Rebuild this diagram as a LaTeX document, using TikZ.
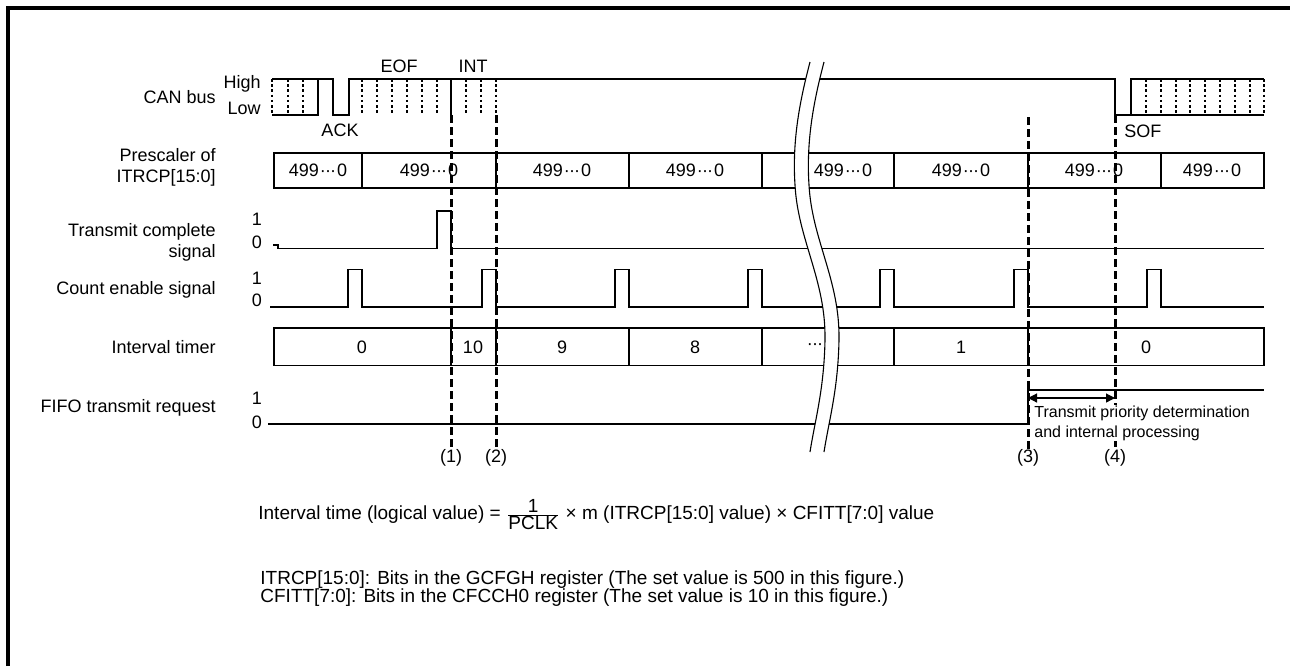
\documentclass[tikz,border=0pt]{standalone}
\usepackage{fontspec}
\setmainfont{Liberation Sans}
\usepackage{tikz}
\usetikzlibrary{arrows.meta, positioning, calc}
\newcommand{\tdots}{\kern0.06em\textperiodcentered\kern-0.05em\textperiodcentered\kern-0.05em\textperiodcentered\kern0.06em}
\tikzset{
  txt/.style={font=\fontsize{9}{10.6}\selectfont, inner sep=0pt},
  lbl/.style={txt, anchor=east, align=right},
  notetxt/.style={font=\fontsize{9.5}{10.6}\selectfont, inner sep=0pt, anchor=base west},
  small/.style={font=\fontsize{8}{10}\selectfont, inner sep=0.5pt, align=left},
  sig/.style={line width=0.55pt},
  cellbox/.style={line width=0.6pt},
  bitdot/.style={line width=1.4pt, dash pattern=on 1.3pt off 1.3pt},
  vcut/.style={line width=1.5pt, dash pattern=on 4pt off 2pt},
  edgeframe/.style={line width=2pt},
  arc/.style={{Triangle[length=4.5pt,width=4.5pt]}-{Triangle[length=4.5pt,width=4.5pt]}, line width=0.6pt}
}
\begin{document}
\begin{tikzpicture}[x=0.5pt, y=-0.5pt]
  \useasboundingbox (0,0) rectangle (1290,666);
  \draw[edgeframe] (8,666) -- (8,8) -- (1290,8);

  % row labels
  \node[lbl] (can) at (216,97) {CAN bus};
  \node[lbl] (hi) at (261,84) {High};
  \node[lbl] (lo) at (261,108) {Low};
  \node[lbl] (pre) at (216,167) {Prescaler of\\ITRCP[15:0]};
  \node[lbl] (tc) at (216,242) {Transmit complete\\signal};
  \node[lbl] (ce) at (216,290) {Count enable signal};
  \node[lbl] (it) at (216,347) {Interval timer};
  \node[lbl] (ff) at (216,408) {FIFO transmit request};
  \foreach \nm/\ya/\yb in {tc/219/242, ce/278/300, ff/398/422} {
    \node[txt] (\nm1) at (257,\ya) {1};
    \node[txt] (\nm0) at (257,\yb) {0};
  }

  % CAN bus
  \draw[sig] (272,79) -- (333,79) -- (333,115) -- (349,115) -- (349,79) -- (1115,79) -- (1115,115) -- (1264,115);
  \draw[sig] (272,115) -- (318,115) -- (318,79);
  \draw[sig] (1131,115) -- (1131,79) -- (1264,79);
  \draw[sig] (451,79) -- (451,115);
  \foreach \x in {272,288,303,362,377,392,407,422,437,466,481,496,1146,1161,1176,1190,1205,1220,1235,1250,1264}
    \draw[bitdot] (\x,79) -- (\x,115);
  \node[txt] (eof) at (399,66) {EOF};
  \node[txt] (int) at (473,66) {INT};
  \node[txt] (ack) at (340,130) {ACK};
  \node[txt, anchor=west] (sof) at (1124,131) {SOF};

  % prescaler
  \draw[cellbox] (274,153) rectangle (1264,188);
  \foreach \x in {362,496,629,762,894,1028,1161}
    \draw[cellbox] (\x,153) -- (\x,188);
  \foreach \x [count=\i] in {318,429,562,695,843,961,1094,1212}
    \node[txt] (p\i) at (\x,170.5) {499\tdots0};

  % transmit complete
  \draw[sig] (273,245) -- (278,245) -- (278,248.5) -- (437,248.5) -- (437,211) -- (451,211) -- (451,248.5) -- (1264,248.5);

  % count enable
  \draw[sig] (270,307) foreach \x in {362,496,629,762,894,1028,1161} {
    -- (\x-14,307) -- (\x-14,269.5) -- (\x,269.5) -- (\x,307) } -- (1264,307);

  % interval timer
  \draw[cellbox] (274,328) rectangle (1264,365.5);
  \foreach \x in {451,496,629,762,894,1028}
    \draw[cellbox] (\x,328) -- (\x,365.5);
  \foreach \v/\x [count=\i] in {0/362,10/473,9/562,8/695,\tdots/815,1/961,0/1146}
    \node[txt] (t\i) at (\x,347) {\v};

  % FIFO transmit request
  \draw[sig] (268,424) -- (1028,424) -- (1028,390) -- (1264,390);

  % break
  \fill[white] (810,62) .. controls (800,100) and (792,140) .. (795,185)
    .. controls (798,240) and (826,280) .. (825,340)
    .. controls (824,390) and (815,420) .. (810,452) -- (824,452)
    .. controls (829,420) and (838,390) .. (839,340)
    .. controls (840,280) and (812,240) .. (809,185)
    .. controls (806,140) and (814,100) .. (824,62) -- cycle;
  \draw[sig] (810,62) .. controls (800,100) and (792,140) .. (795,185)
    .. controls (798,240) and (826,280) .. (825,340)
    .. controls (824,390) and (815,420) .. (810,452);
  \draw[sig] (824,62) .. controls (814,100) and (806,140) .. (809,185)
    .. controls (812,240) and (840,280) .. (839,340)
    .. controls (838,390) and (829,420) .. (824,452);

  % timing marks
  \foreach \x/\y [count=\i] in {451/115, 496/115, 1028/117, 1115/115} {
    \node[txt] (q\i) at (\x,458) {(\i)};
    \coordinate (m\i) at (\x,\y);
    \draw[vcut] (m\i) -- (q\i.north);
  }
  \coordinate (a3) at (1028,398);
  \coordinate (a4) at (1115,398);
  \draw[arc] (a3) -- (a4);
  \node[small, fill=white, anchor=west] (tpd) at (1033,423) {Transmit priority determination\\and internal processing};

  % formula and notes
  \node[notetxt] (form) at (258,519.5) {Interval time (logical value) = $\frac{\mbox{1}}{\mbox{PCLK}}$ × m (ITRCP[15:0] value) × CFITT[7:0] value};
  \node[notetxt] (note1) at (260,584.5) {ITRCP[15:0]: Bits in the GCFGH register (The set value is 500 in this figure.)};
  \node[notetxt] (note2) at (260,602.5) {CFITT[7:0]: Bits in the CFCCH0 register (The set value is 10 in this figure.)};
\end{tikzpicture}
\end{document}
